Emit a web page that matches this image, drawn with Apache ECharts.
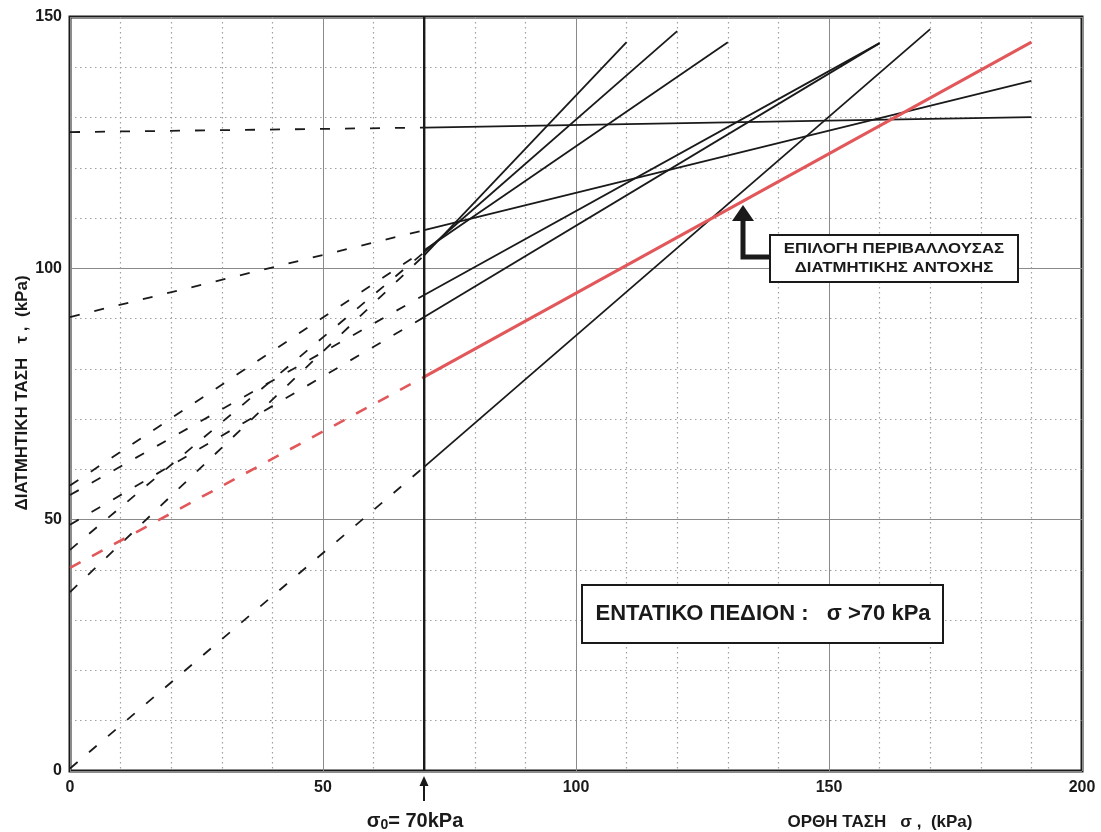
<!DOCTYPE html>
<html>
<head>
<meta charset="utf-8">
<title>Περιβάλλουσες διατμητικής αντοχής</title>
<script src="https://cdn.jsdelivr.net/npm/echarts@6/dist/echarts.min.js"></script>
<style>
  html, body { margin: 0; padding: 0; background: #ffffff; }
  #chart { width: 1101px; height: 832px; }
</style>
</head>
<body>
<div id="chart"></div>
<script>
// Shear strength envelopes τ = f(σ): each line is dashed for σ < σ0 and solid for σ ≥ σ0.
const sigma0 = 70;                       // kPa, lower bound of the stress field of interest
const envelopeTauAtZero = [127.1, 90.3, 56.8, 54.9, 49.0, 44.0, 35.6, 40.4, 0.5];
const envelopeTauAtSigma0 = [128.0, 107.6, 103.6, 94.7, 90.3, 103.2, 102.6, 78.4, 60.5];
const envelopeEndSigma = [190, 190, 130, 160, 160, 120, 110, 190, 170];
const envelopeEndTau = [130.1, 137.3, 145.0, 144.8, 144.8, 147.2, 145.0, 145.0, 147.6];
const selectedEnvelope = 7;              // index of the chosen (red) envelope

const xTickLabels = ['0', '50', '100', '150', '200'];
const yTickLabels = ['0', '50', '100', '150'];

const FONT = '"Liberation Sans", Arial, sans-serif';
const INK = '#1a1a1a';
const RED = '#e2575a';

const series = [];
envelopeTauAtZero.forEach(function (c, i) {
  const isSel = i === selectedEnvelope;
  const color = isSel ? RED : INK;
  series.push({
    type: 'line', silent: true, symbol: 'none', z: isSel ? 4 : 3,
    data: [[0, c], [sigma0, envelopeTauAtSigma0[i]]],
    lineStyle: { color: color, width: isSel ? 2.6 : 1.8, type: isSel ? [12, 13] : [10, 15] }
  });
  series.push({
    type: 'line', silent: true, symbol: 'none', z: isSel ? 4 : 3,
    data: [[sigma0, envelopeTauAtSigma0[i]], [envelopeEndSigma[i], envelopeEndTau[i]]],
    lineStyle: { color: color, width: isSel ? 3 : 1.8 }
  });
});
// vertical line at σ0
series.push({
  type: 'line', silent: true, symbol: 'none', z: 5,
  data: [[sigma0, 0], [sigma0, 150]],
  lineStyle: { color: INK, width: 2.4 }
});

const chart = echarts.init(document.getElementById('chart'), null, { renderer: 'canvas' });

function tickLabel(list) {
  return function (v) {
    const s = String(Math.round(v));
    return list.indexOf(s) >= 0 ? s : '';
  };
}

chart.setOption({
  animation: false,
  backgroundColor: '#ffffff',
  grid: { left: 70, right: 19, top: 17, bottom: 61, show: true, borderColor: INK, borderWidth: 3, backgroundColor: 'transparent' },
  xAxis: {
    type: 'value', min: 0, max: 200, interval: 50,
    axisLine: { show: false }, axisTick: { show: false },
    axisLabel: { formatter: tickLabel(xTickLabels), fontFamily: FONT, fontWeight: 'bold', fontSize: 16, color: INK, margin: 9 },
    splitLine: { show: true, lineStyle: { color: '#8a8a8a', width: 1 } },
    minorTick: { show: false, splitNumber: 5 },
    minorSplitLine: { show: true, lineStyle: { color: '#a0a0a0', width: 1.2, type: [1.5, 3.5] } }
  },
  yAxis: {
    type: 'value', min: 0, max: 150, interval: 50,
    axisLine: { show: false }, axisTick: { show: false },
    axisLabel: { formatter: tickLabel(yTickLabels), fontFamily: FONT, fontWeight: 'bold', fontSize: 16, color: INK, margin: 8 },
    splitLine: { show: true, lineStyle: { color: '#8a8a8a', width: 1 } },
    minorTick: { show: false, splitNumber: 5 },
    minorSplitLine: { show: true, lineStyle: { color: '#a0a0a0', width: 1.2, type: [1.5, 3.5] } }
  },
  series: series,
  graphic: [
    // axis titles
    {
      type: 'text', x: 22, y: 393, rotation: Math.PI / 2, z: 10,
      style: { text: 'ΔΙΑΤΜΗΤΙΚΗ ΤΑΣΗ   τ ,  (kPa)', font: 'bold 17px ' + FONT, fill: INK, align: 'center', verticalAlign: 'middle' }
    },
    {
      type: 'text', x: 880, y: 822, z: 10,
      style: { text: 'ΟΡΘΗ ΤΑΣΗ   σ ,  (kPa)', font: 'bold 17px ' + FONT, fill: INK, align: 'center', verticalAlign: 'middle' }
    },
    // σ0 marker under the x axis
    {
      type: 'text', x: 415, y: 821, z: 10,
      style: {
        text: 'σ{s|0}= 70kPa', font: 'bold 20px ' + FONT, fill: INK, align: 'center', verticalAlign: 'middle',
        rich: { s: { font: 'bold 14px ' + FONT, fill: INK, verticalAlign: 'bottom', padding: [8, 0, 0, 0] } }
      }
    },
    {
      type: 'line', z: 10,
      shape: { x1: 424, y1: 801, x2: 424, y2: 783 },
      style: { stroke: INK, lineWidth: 2 }
    },
    {
      type: 'polygon', z: 10,
      shape: { points: [[424, 776], [419.5, 786], [428.5, 786]] },
      style: { fill: INK }
    },
    // stress-field box
    {
      type: 'rect', z: 10,
      shape: { x: 582, y: 585, width: 361, height: 58 },
      style: { fill: '#ffffff', stroke: INK, lineWidth: 2 }
    },
    {
      type: 'text', x: 763, y: 614, z: 11,
      style: { text: 'ΕΝΤΑΤΙΚΟ ΠΕΔΙΟΝ :   σ >70 kPa', font: 'bold 22px ' + FONT, fill: INK, align: 'center', verticalAlign: 'middle' }
    },
    // envelope selection note with arrow
    {
      type: 'polyline', z: 10,
      shape: { points: [[743, 219], [743, 257], [771, 257]] },
      style: { stroke: INK, lineWidth: 5, fill: null, lineJoin: 'miter' }
    },
    {
      type: 'polygon', z: 10,
      shape: { points: [[743, 205], [732, 221], [754, 221]] },
      style: { fill: INK }
    },
    {
      type: 'rect', z: 10,
      shape: { x: 770, y: 235, width: 248, height: 47 },
      style: { fill: '#ffffff', stroke: INK, lineWidth: 2 }
    },
    {
      type: 'text', x: 894, y: 258, scaleX: 1.12, z: 11,
      style: { text: 'ΕΠΙΛΟΓΗ ΠΕΡΙΒΑΛΛΟΥΣΑΣ\nΔΙΑΤΜΗΤΙΚΗΣ ΑΝΤΟΧΗΣ', font: 'bold 15px ' + FONT, fill: INK, align: 'center', verticalAlign: 'middle', lineHeight: 19 }
    }
  ]
});
</script>
</body>
</html>
